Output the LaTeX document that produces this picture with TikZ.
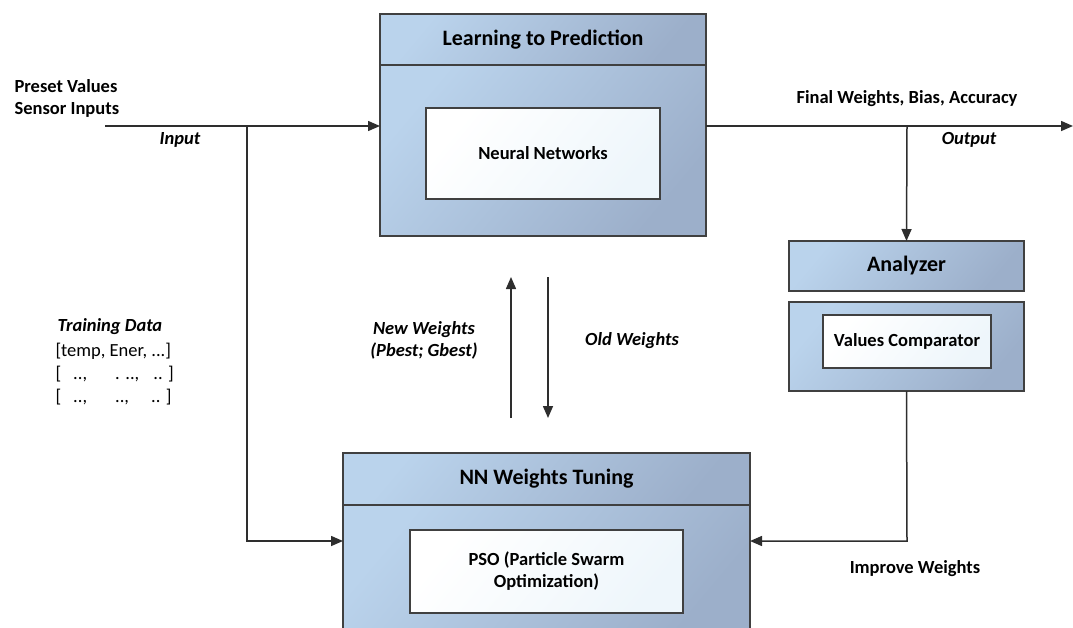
\documentclass[tikz,border=0pt]{standalone}
\usepackage{fontspec}
\setmainfont{Carlito}
\usetikzlibrary{arrows.meta}
\definecolor{boxlight}{HTML}{BAD3EC}
\definecolor{boxdark}{HTML}{9CAFCA}
\definecolor{innerlight}{HTML}{FFFFFF}
\definecolor{innerdark}{HTML}{EEF6FB}
\definecolor{edge}{HTML}{404040}
\definecolor{conncol}{HTML}{2E2E2E}
\tikzset{
  outerbox/.style={draw=edge, line width=1.5pt, top color=boxlight, bottom color=boxdark, shading angle=50, inner sep=0pt, outer sep=0pt, anchor=north west},
  innerbox/.style={draw=edge, line width=1.3pt, top color=innerlight, bottom color=innerdark, shading angle=50, inner sep=0pt, outer sep=0pt, anchor=north west},
  conn/.style={draw=conncol, line width=1.5pt},
  arr/.style={conn, -{Triangle[length=12pt,width=10pt]}},
  lbl/.style={font=\fontsize{18.5}{22}\selectfont\bfseries, text=black},
  ilbl/.style={font=\fontsize{18.5}{22}\selectfont\bfseries\itshape, text=black},
  title/.style={font=\fontsize{22}{26}\selectfont\bfseries, text=black},
}
\begin{document}
\begin{tikzpicture}[x=1pt,y=-1pt]
\useasboundingbox (0,0) rectangle (1073,627);
% Learning to Prediction
\node[outerbox, minimum width=326pt, minimum height=51pt] (lph) at (380,14) {};
\node[outerbox, minimum width=326pt, minimum height=171pt] (lpb) at (380,65) {};
\node[title] (lpt) at (lph.center) {Learning to Prediction};
\node[innerbox, minimum width=234pt, minimum height=91pt] (nn) at (426,108) {};
\node[lbl] (nnt) at (nn.center) {Neural Networks};
% Analyzer
\node[outerbox, minimum width=235pt, minimum height=50pt] (an) at (789,241) {};
\node[title] (ant) at (an.center) {Analyzer};
\node[outerbox, minimum width=235pt, minimum height=89pt] (vcb) at (789,302) {};
\node[innerbox, minimum width=168pt, minimum height=53pt] (vc) at (823,315) {};
\node[lbl] (vct) at (vc.center) {Values Comparator};
% NN Weights Tuning
\node[outerbox, minimum width=407pt, minimum height=52pt] (psoh) at (343,453) {};
\node[outerbox, minimum width=407pt, minimum height=130pt] (psob) at (343,505) {};
\node[title] (psot) at (psoh.center) {NN Weights Tuning};
\node[innerbox, minimum width=273pt, minimum height=83pt] (pso) at (410,530) {};
\node[lbl, align=center] (psotx) at (pso.center) {PSO (Particle Swarm\\Optimization)};
% coordinates
\coordinate (in) at (105,126);
\coordinate (jin) at (247,126);
\coordinate (c1) at (247,541);
\coordinate (jout) at (907,126);
\coordinate (out) at (1073,126);
\coordinate (c2) at (907,541);
\coordinate (upS) at (511,418);
\coordinate (upE) at (511,277);
\coordinate (dnS) at (548,277);
\coordinate (dnE) at (548,418);
% connectors
\draw[arr] (in) -- (lpb.west |- in);
\draw[arr] (jin) -- (c1) -- (psob.west |- c1);
\draw[conn, line width=2.4pt] (lpb.east |- jout) -- (jout);
\draw[arr] (jout) -- (out);
\draw[arr] (jout) -- (an.north);
\draw[arr] (vcb.south) -- (c2) -- (psob.east |- c2);
\draw[arr] (upS) -- (upE);
\draw[arr] (dnS) -- (dnE);
% labels
\node[lbl, align=left, anchor=west] (pre) at (11,98) {Preset Values\\Sensor Inputs};
\node[ilbl] (inl) at (180,140) {Input};
\node[lbl] (fw) at (907,99) {Final Weights, Bias, Accuracy};
\node[ilbl] (outl) at (969,140) {Output};
\node[ilbl, align=center] (nw) at (424,340) {New Weights\\(Pbest; Gbest)};
\node[ilbl] (ow) at (632,341) {Old Weights};
\node[lbl] (iw) at (915,569) {Improve Weights};
\node[ilbl, anchor=west] (td) at (54,327) {Training Data};
\node[font=\fontsize{18.5}{23}\selectfont, anchor=north west, align=left] (tdv) at (52,340)
  {{[}temp, Ener, ...{]}\\
   {[}\hspace{12pt}..,\hspace{28pt}. ..,\hspace{14pt}.. {]}\\
   {[}\hspace{12pt}..,\hspace{28pt}..,\hspace{22pt}.. {]}};
\end{tikzpicture}
\end{document}
